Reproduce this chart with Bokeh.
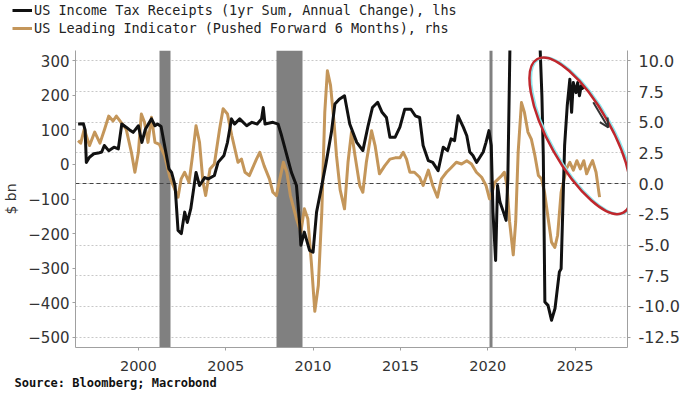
from bokeh.plotting import figure
from bokeh.layouts import column
from bokeh.models import (Range1d, LinearAxis, FixedTicker, NumeralTickFormatter,
                          Legend, LegendItem, Arrow, OpenHead, Title)
from bokeh.embed import file_html
from bokeh.resources import INLINE

# ---------------- data ----------------
tax_years = [1996.55, 1996.85, 1996.95, 1997.02, 1997.2, 1997.45, 1997.7, 1997.9, 1998.05, 1998.3,
             1998.6, 1998.85, 1999.05, 1999.3, 1999.5, 1999.7, 2000.0, 2000.2, 2000.4, 2000.75,
             2000.95, 2001.1, 2001.3, 2001.5, 2001.75, 2001.9, 2002.1, 2002.27, 2002.46, 2002.65,
             2002.8, 2003.0, 2003.3, 2003.5, 2003.8, 2004.0, 2004.35, 2004.56, 2004.9, 2005.1,
             2005.33, 2005.5, 2005.8, 2006.2, 2006.5, 2006.8, 2007.05, 2007.15, 2007.25, 2007.7,
             2008.0, 2008.2, 2008.5, 2008.76, 2009.05, 2009.24, 2009.3, 2009.5, 2009.8, 2010.0,
             2010.2, 2010.5, 2010.75, 2011.05, 2011.25, 2011.5, 2011.8, 2012.1, 2012.5, 2012.85,
             2013.15, 2013.4, 2013.7, 2013.95, 2014.2, 2014.4, 2014.7, 2014.97, 2015.25, 2015.6,
             2015.85, 2016.1, 2016.3, 2016.6, 2016.85, 2017.16, 2017.45, 2017.7, 2017.9, 2018.1,
             2018.3, 2018.6, 2018.8, 2018.97, 2019.15, 2019.36, 2019.55, 2019.74, 2019.9, 2020.07,
             2020.2, 2020.3, 2020.45, 2020.56, 2020.7, 2020.9, 2021.05, 2021.15, 2021.27, 2021.4,
             2021.7, 2022.0, 2022.4, 2022.7, 2022.98, 2023.1, 2023.18, 2023.27, 2023.45, 2023.65,
             2023.85, 2024.1, 2024.2, 2024.4, 2024.55, 2024.7, 2024.8, 2024.9, 2025.05, 2025.15,
             2025.25, 2025.35, 2025.5]
tax_vals = [117, 118, 100, 6, 21, 31, 33, 36, 55, 40,
            50, 45, 117, 108, 100, 93, 112, 64, 102, 132,
            112, 117, 110, 55, -13, -23, -61, -191, -200, -138,
            -168, -128, -23, -61, -38, -42, -32, 6, 26, 64,
            132, 117, 132, 112, 122, 117, 132, 165, 117, 122,
            117, 83, 26, -23, -61, -177, -234, -196, -249, -254,
            -138, -61, 6, 93, 175, 189, 199, 117, 64, 40,
            112, 165, 180, 151, 136, 79, 79, 108, 160, 160,
            141, 136, 55, 11, 6, -18, 50, 40, 74, 69,
            141, 108, 83, 36, 26, 6, 21, 36, 64, 98,
            55, -138, -278, -61, -109, -138, -162, -42, 340, 480,
            650, 720, 680, 520, 360, 199, 26, -398, -408, -451,
            -417, -311, -302, 55, 170, 247, 151, 237, 208, 237,
            199, 228, 218]

lei_years = [1996.55, 1996.7, 1996.9, 1997.2, 1997.5, 1997.8, 1998.07, 1998.3, 1998.55, 1998.74,
             1999.0, 1999.3, 1999.6, 1999.8, 2000.0, 2000.17, 2000.35, 2000.55, 2000.75, 2000.95,
             2001.2, 2001.5, 2001.8, 2001.95, 2002.27, 2002.45, 2002.65, 2002.9, 2003.1, 2003.3,
             2003.5, 2003.7, 2003.85, 2004.1, 2004.35, 2004.65, 2004.85, 2005.1, 2005.35, 2005.7,
             2005.9, 2006.1, 2006.35, 2006.76, 2006.95, 2007.2, 2007.5, 2007.7, 2007.9, 2008.1,
             2008.3, 2008.5, 2008.7, 2009.05, 2009.3, 2009.5, 2009.7, 2009.9, 2010.1, 2010.3,
             2010.5, 2010.67, 2010.82, 2011.0, 2011.2, 2011.34, 2011.55, 2011.8, 2012.0, 2012.2,
             2012.4, 2012.67, 2012.85, 2013.05, 2013.35, 2013.55, 2013.8, 2014.1, 2014.4, 2014.7,
             2014.97, 2015.16, 2015.35, 2015.54, 2015.8, 2016.1, 2016.3, 2016.6, 2016.85, 2017.12,
             2017.35, 2017.64, 2017.9, 2018.2, 2018.5, 2018.8, 2019.07, 2019.35, 2019.65, 2019.9,
             2020.1, 2020.25, 2020.4, 2020.8, 2020.95, 2021.1, 2021.25, 2021.46, 2021.6, 2021.74,
             2021.93, 2022.1, 2022.3, 2022.5, 2022.7, 2022.9, 2023.08, 2023.25, 2023.46, 2023.65,
             2023.84, 2024.0, 2024.2, 2024.5, 2024.7, 2024.9, 2025.1, 2025.3, 2025.5, 2025.66,
             2025.85, 2026.0, 2026.2, 2026.4]
lei_vals = [3.5, 3.3, 4.45, 3.1, 4.2, 3.3, 4.45, 5.5, 5.1, 5.5,
            5.0, 4.45, 2.55, 0.93, 2.55, 5.67, 5.0, 3.36, 5.4, 3.36,
            3.2, 2.28, 0.52, 0.0, -1.1, 0.39, 0.93, 0.11, 2.28, 4.72,
            3.36, 0.11, -0.97, 1.2, 1.6, 4.45, 6.1, 5.67, 3.9, 1.74,
            2.0, 0.93, 0.66, 2.0, 2.55, 1.45, 0.39, -0.7, -0.97, 0.39,
            1.74, 0.93, -0.97, -2.86, -3.95, -2.05, -2.86, -6.4, -10.4, -8.3,
            -2.3, 5.8, 9.19, 8.0, 5.0, 2.28, -0.5, -2.05, 1.74, 4.2,
            2.28, -0.15, -0.7, 1.74, 4.3, 3.1, 0.8, 1.45, 2.0, 2.1,
            2.1, 2.55, 2.0, 0.93, 0.93, 0.52, -0.15, 1.1, -0.15, -1.1,
            0.39, 0.93, 1.3, 1.74, 1.6, 1.87, 1.6, 0.93, 0.52, -0.15,
            -1.24, -0.7, 0.11, 0.66, 0.93, -0.15, -3.1, -5.8, -3.1, 2.55,
            6.6, 5.8, 4.2, 3.6, 2.28, 0.66, 0.39, -0.7, -2.86, -4.76,
            -5.2, -4.2, -0.7, 1.2, 1.74, 1.1, 1.87, 1.2, 1.87, 0.8,
            1.45, 1.87, 0.93, -1.1]

rec_start = [2001.2, 2007.92, 2020.12]
rec_end = [2001.85, 2009.42, 2020.27]

left_ticks = [-500, -400, -300, -200, -100, 0, 100, 200, 300]
right_ticks = [-12.5, -10.0, -7.5, -5.0, -2.5, 0.0, 2.5, 5.0, 7.5, 10.0]
x_ticks = [2000, 2005, 2010, 2015, 2020, 2025]

label_tax = "US Income Tax Receipts (1yr Sum, Annual Change), lhs"
label_lei = "US Leading Indicator (Pushed Forward 6 Months), rhs"
source_text = "Source: Bloomberg; Macrobond"

# ---------------- styling ----------------
BLACK = "#111111"
GOLD = "#c4965a"
GREY_BAR = "#808080"
AXIS_GREY = "#a0a0a0"
TEXT = "#333333"
FONT = "DejaVu Sans"
MONO = "DejaVu Sans Mono"

# ---------------- header with the legend ----------------
HW, HH, LH = 700, 44, 18
head = figure(frame_width=HW, frame_height=HH, x_range=Range1d(0, 1), y_range=Range1d(0, 1),
              x_axis_type=None, y_axis_type=None, output_backend="svg",
              toolbar_location=None, min_border=0)
head.outline_line_color = None
head.xgrid.visible = False
head.ygrid.visible = False
# single-point (invisible) proxies, only used to draw the legend swatches
h_tax = head.line(x=[-1], y=[-1], line_color=BLACK, line_width=3)
h_lei = head.line(x=[-1], y=[-1], line_color=GOLD, line_width=3)
legend = Legend(items=[LegendItem(label=label_tax, renderers=[h_tax]),
                       LegendItem(label=label_lei, renderers=[h_lei])],
                location=(12, HH - 1 - 2 * LH), orientation="vertical",
                label_text_font=MONO, label_text_font_size="13.5px",
                label_text_color="#222222",
                glyph_width=20, glyph_height=LH, label_height=LH, label_standoff=2,
                spacing=0, padding=0, margin=0,
                border_line_color=None, background_fill_alpha=0)
head.add_layout(legend, "center")

# ---------------- main chart ----------------
FW, FH = 552, 297
p = figure(frame_width=FW, frame_height=FH,
           x_range=Range1d(1996.4, 2028.0), y_range=Range1d(-530, 330),
           output_backend="svg", toolbar_location=None,
           min_border_left=74, min_border_right=74, min_border_top=6, min_border_bottom=47)
p.extra_y_ranges = {"rhs": Range1d(-13.34375, 10.84375)}
p.outline_line_color = None

# recession shading
p.vstrip(x0=rec_start, x1=rec_end, fill_color=GREY_BAR, line_color=None)

# zero line of right axis
p.hspan(y=[0], y_range_name="rhs", line_color="#444444", line_width=1.2, line_dash="4 3")

# series
r_lei = p.line(lei_years, lei_vals, y_range_name="rhs", line_color=GOLD, line_width=3,
               line_join="round")
r_tax = p.line(tax_years, tax_vals, line_color=BLACK, line_width=3, line_join="round")

# axes
p.xaxis.ticker = FixedTicker(ticks=x_ticks)
p.yaxis.ticker = FixedTicker(ticks=left_ticks)
p.yaxis.axis_label = "$ bn"

rax = LinearAxis(y_range_name="rhs", ticker=FixedTicker(ticks=right_ticks),
                 formatter=NumeralTickFormatter(format="0.0"))
p.add_layout(rax, "right")

for ax in [p.xaxis[0], p.yaxis[0], rax]:
    ax.axis_line_color = AXIS_GREY
    ax.axis_line_width = 1
    ax.major_tick_line_color = AXIS_GREY
    ax.minor_tick_line_color = None
    ax.major_tick_in = 0
    ax.major_tick_out = 3
    ax.major_label_text_font = FONT
    ax.major_label_text_color = TEXT
    ax.major_label_standoff = 3
p.xaxis[0].major_label_text_font_size = "14.5px"
p.xaxis[0].major_label_standoff = 10
p.yaxis[0].major_label_text_font_size = "15px"
p.yaxis[0].axis_label_standoff = 6
rax.major_label_text_font_size = "16px"
rax.major_label_standoff = 8
p.yaxis[0].axis_label_text_font = FONT
p.yaxis[0].axis_label_text_font_size = "14px"
p.yaxis[0].axis_label_text_font_style = "normal"
p.yaxis[0].axis_label_text_color = TEXT

p.xgrid.visible = False
p.ygrid.ticker = FixedTicker(ticks=right_ticks)
p.ygrid.y_range_name = "rhs"
p.ygrid.grid_line_color = "#c8c8c8"
p.ygrid.grid_line_dash = "2 2"
p.ygrid.grid_line_width = 1

# annotation: ellipse + arrow
p.ellipse(x=[2025.39], y=[83], width=176, height=62, angle=-1.06,
          width_units="screen", height_units="screen",
          fill_color=None, line_color="#8ee6ec", line_width=2.5)
p.ellipse(x=[2025.3], y=[83], width=176, height=62, angle=-1.06,
          width_units="screen", height_units="screen",
          fill_color=None, line_color="#c0272d", line_width=2.5)
p.add_layout(Arrow(x_start=2026.04, y_start=180, x_end=2026.9, y_end=107,
                   line_color="#333333", line_width=2,
                   end=OpenHead(size=9, line_color="#333333", line_width=2)))

src = Title(text=source_text, align="left", offset=-61, text_font=MONO, standoff=1,
            text_font_style="bold", text_font_size="12px", text_color="#111111")
p.add_layout(src, "below")

layout = column(head, p, spacing=0)
open("out.html", "w").write(file_html(layout, INLINE))
